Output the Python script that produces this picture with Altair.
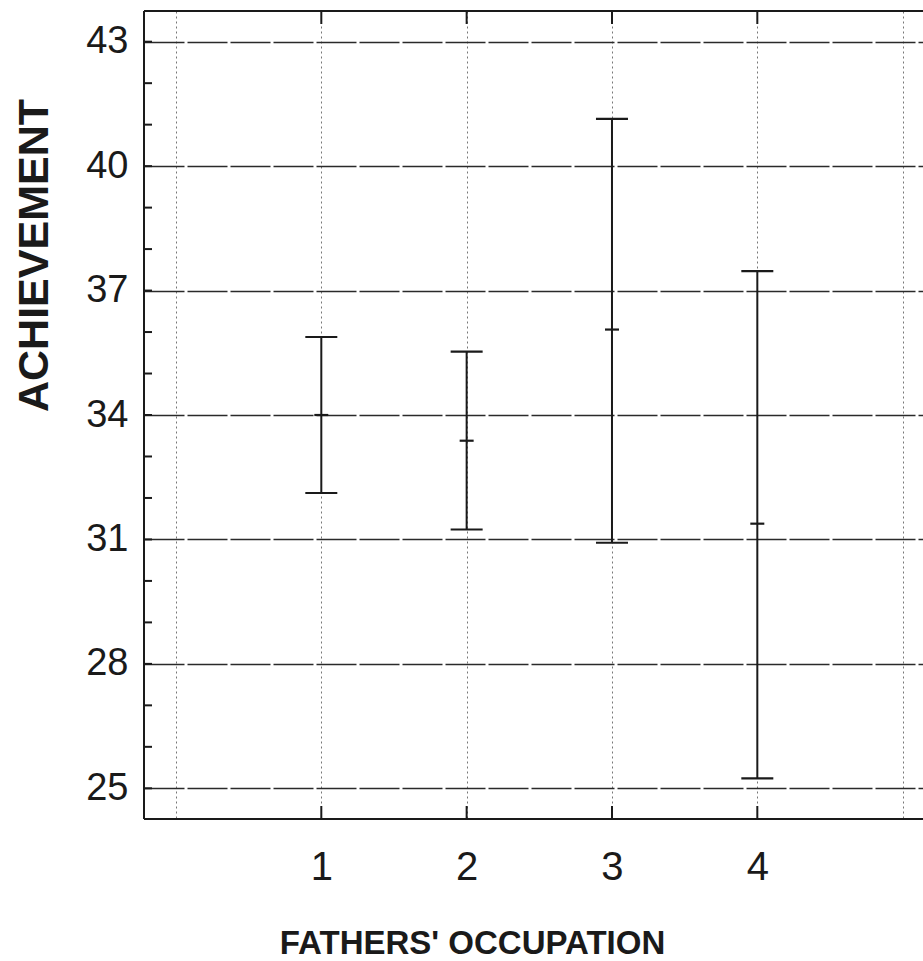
import altair as alt
import pandas as pd

# ---- data ----
occupation = [1, 2, 3, 4]
upper = [35.88, 35.53, 41.14, 37.47]
mean = [34.0, 33.38, 36.06, 31.38]
lower = [32.12, 31.24, 30.92, 25.24]

y_major = [25, 28, 31, 34, 37, 40, 43]
y_minor = list(range(25, 44))
x_grid = [0, 1, 2, 3, 4, 5]
x_ticks = [1, 2, 3, 4]

W, H = 779, 808
FONT = "Liberation Sans"
INK = "#1a1a1a"

df = pd.DataFrame({"occ": occupation, "upper": upper, "mean": mean, "lower": lower})
df_minor = pd.DataFrame({"v": y_minor})
df_xt = pd.DataFrame({"v": x_ticks})

xscale = alt.Scale(domain=[-0.22, 5.14], nice=False, zero=False)
yscale = alt.Scale(domain=[24.26, 43.74], nice=False, zero=False)

x_axis = alt.Axis(
    values=x_grid, grid=True, gridColor="#777", gridWidth=1, gridDash=[2, 3],
    ticks=False, domain=False, format="d",
    labelExpr="datum.value >= 1 && datum.value <= 4 ? datum.label : ''",
    labelFont=FONT, labelFontSize=40, labelColor=INK, labelPadding=28,
    title="FATHERS' OCCUPATION", titleFont=FONT, titleFontSize=33, titleFontWeight="bold",
    titleColor=INK, titleX=328, titleY=134, titleBaseline="alphabetic", titleAlign="center",
)
y_axis = alt.Axis(
    values=y_major, grid=True, gridColor="#2a2a2a", gridWidth=1.6, gridDash=[40, 3],
    ticks=False, domain=False,
    labelFont=FONT, labelFontSize=38, labelColor=INK, labelPadding=16,
    title="ACHIEVEMENT", titleFont=FONT, titleFontSize=43, titleFontWeight="bold",
    titleColor=INK, titleX=-97, titleY=244, titleBaseline="alphabetic", titleAlign="center",
    titleAngle=270,
)

base = alt.Chart(df)

bars = base.mark_rule(color=INK, strokeWidth=2).encode(
    x=alt.X("occ:Q", scale=xscale, axis=x_axis),
    y=alt.Y("lower:Q", scale=yscale, axis=y_axis),
    y2="upper:Q",
)
cap_top = base.mark_rule(color=INK, strokeWidth=2.2, xOffset=-16, x2Offset=16).encode(
    x="occ:Q", x2="occ:Q", y="upper:Q"
)
cap_bot = base.mark_rule(color=INK, strokeWidth=2.2, xOffset=-16, x2Offset=16).encode(
    x="occ:Q", x2="occ:Q", y="lower:Q"
)
mean_tick = base.mark_rule(color=INK, strokeWidth=2.2, xOffset=-7, x2Offset=7).encode(
    x="occ:Q", x2="occ:Q", y="mean:Q"
)

minor = alt.Chart(df_minor).mark_rule(color=INK, strokeWidth=2).encode(
    y="v:Q", x=alt.value(0), x2=alt.value(8)
)
xt_bottom = alt.Chart(df_xt).mark_rule(color=INK, strokeWidth=2).encode(
    x="v:Q", y=alt.value(H - 13), y2=alt.value(H)
)
xt_top = alt.Chart(df_xt).mark_rule(color=INK, strokeWidth=2).encode(
    x="v:Q", y=alt.value(0), y2=alt.value(13)
)

one = pd.DataFrame({"k": [0]})
border_top = alt.Chart(one).mark_rule(color=INK, strokeWidth=2).encode(
    x=alt.value(0), x2=alt.value(W), y=alt.value(0)
)
border_bot = alt.Chart(one).mark_rule(color=INK, strokeWidth=2).encode(
    x=alt.value(0), x2=alt.value(W), y=alt.value(H)
)
border_left = alt.Chart(one).mark_rule(color=INK, strokeWidth=2).encode(
    x=alt.value(0), y=alt.value(0), y2=alt.value(H)
)

chart = alt.layer(
    bars, cap_top, cap_bot, mean_tick, minor, xt_bottom, xt_top,
    border_top, border_bot, border_left,
).properties(
    width=W, height=H,
    padding={"left": 144, "top": 11, "right": 0, "bottom": 140},
    autosize=alt.AutoSizeParams(type="none"),
).configure_view(stroke=None).configure(background="white")

chart.save("out.html", embed_options={"renderer": "svg", "actions": False})
